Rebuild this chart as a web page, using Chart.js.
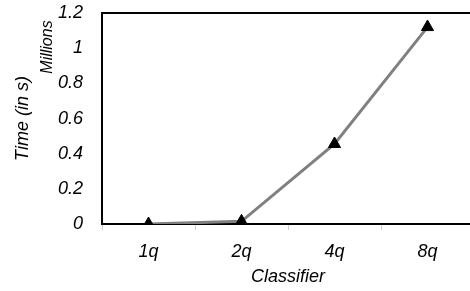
<!DOCTYPE html>
<html>
<head>
<meta charset="utf-8">
<script src="https://cdn.jsdelivr.net/npm/chart.js@4.4.1/dist/chart.umd.min.js"></script>
<style>
  html, body { margin: 0; padding: 0; background: #fff; overflow: hidden; }
  #wrap { width: 470px; height: 291px; overflow: hidden; }
  #wrap div { width: 500px; height: 291px; position: relative; }
</style>
</head>
<body>
<div id="wrap"><div><canvas id="chart"></canvas></div></div>
<script>
const categories = ['1q', '2q', '4q', '8q'];
const timeMillions = [0.0, 0.015, 0.455, 1.12];
const yTicks = [0, 0.2, 0.4, 0.6, 0.8, 1, 1.2];

const family = '"Liberation Sans", Arial, sans-serif';
const tickFont = { family: family, size: 18, style: 'italic' };
const titleFont = { family: family, size: 18, style: 'italic' };

// top edge of the plot frame plus the "Millions" unit label
const framePlugin = {
    id: 'frame',
    afterDraw(chart) {
        const { ctx, chartArea: a } = chart;
        ctx.save();
        ctx.strokeStyle = '#000';
        ctx.lineWidth = 2;
        ctx.beginPath();
        ctx.moveTo(a.left - 1, a.top);
        ctx.lineTo(a.right + 10, a.top);
        ctx.stroke();
        ctx.translate(48, 47);
        ctx.rotate(-Math.PI / 2);
        ctx.font = 'italic 16px ' + family;
        ctx.fillStyle = '#000';
        ctx.textAlign = 'center';
        ctx.textBaseline = 'middle';
        ctx.fillText('Millions', 0, 0);
        ctx.restore();
    }
};

new Chart(document.getElementById('chart'), {
    type: 'line',
    data: {
        labels: categories,
        datasets: [{
            label: 'Time',
            data: timeMillions,
            borderColor: '#808080',
            borderWidth: 3,
            pointStyle: 'triangle',
            pointRadius: 7,
            pointBackgroundColor: '#000',
            pointBorderColor: '#000',
            pointBorderWidth: 1,
            tension: 0
        }]
    },
    options: {
        responsive: true,
        maintainAspectRatio: false,
        animation: false,
        layout: { padding: { top: 13, right: 26, left: 0, bottom: 0 } },
        scales: {
            x: {
                offset: true,
                grid: {
                    display: true,
                    drawOnChartArea: false,
                    drawTicks: true,
                    tickLength: 6,
                    color: '#d0d0d0',
                    offset: true
                },
                border: { color: '#000', width: 2 },
                ticks: { color: '#000', font: tickFont, padding: 11 },
                title: { display: true, text: 'Classifier', color: '#000', font: titleFont, padding: { top: 0, bottom: 3 } },
                afterFit(scale) {
                    scale.height = 67;
                    scale.paddingLeft = 0;
                    scale.paddingRight = 0;
                }
            },
            y: {
                min: 0,
                max: 1.2,
                afterBuildTicks(scale) { scale.ticks = yTicks.map(v => ({ value: v })); },
                grid: { display: false, drawTicks: false },
                border: { color: '#000', width: 2 },
                ticks: { color: '#000', font: tickFont, padding: 19, callback: v => String(v) },
                title: { display: true, text: 'Time (in s)', color: '#000', font: titleFont, padding: { top: 12, bottom: 0 } },
                afterFit(scale) {
                    scale.width = 102;
                    scale.paddingTop = 0;
                    scale.paddingBottom = 0;
                }
            }
        },
        plugins: {
            legend: { display: false },
            tooltip: { enabled: false }
        }
    },
    plugins: [framePlugin]
});
</script>
</body>
</html>
